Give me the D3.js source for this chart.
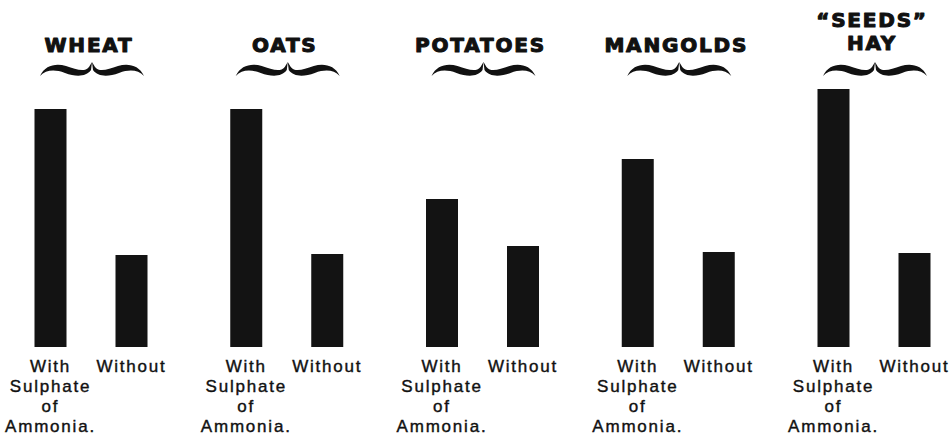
<!DOCTYPE html>
<html>
<head>
<meta charset="utf-8">
<script src="https://cdn.jsdelivr.net/npm/d3@7"></script>
<style>
  html, body { margin: 0; padding: 0; background: #fff; }
  svg { display: block; }
</style>
</head>
<body>
<svg id="chart" width="952" height="437"></svg>
<script>
// ---- data ----
const crops = ["WHEAT", "OATS", "POTATOES", "MANGOLDS", "SEEDS HAY"];
const titleLines = [["WHEAT"], ["OATS"], ["POTATOES"], ["MANGOLDS"], ["\u201cSEEDS\u201d", "HAY"]];
const series = ["With", "Without"];
const withSulphate = [238, 238, 148, 188, 258];
const withoutSulphate = [92, 93, 101, 95, 94];
const seriesLabels = [["With", "Sulphate", "of", "Ammonia."], ["Without"]];

// ---- layout ----
const svg = d3.select("#chart");
const baseY = 347, topY = 89;
const y = d3.scaleLinear().domain([0, d3.max(withSulphate)]).range([baseY, topY]);
const x0 = d3.scalePoint().domain(crops).range([91, 874]);
const x1 = d3.scalePoint().domain(series).range([-40.5, 40.5]);
const barW = 32;

const rows = crops.map((c, i) => ({
  crop: c,
  values: [
    { s: "With", v: withSulphate[i] },
    { s: "Without", v: withoutSulphate[i] }
  ]
}));

const g = svg.selectAll("g.group").data(rows).join("g")
  .attr("class", "group")
  .attr("transform", d => `translate(${x0(d.crop)},0)`);

// bars
g.selectAll("rect").data(d => d.values).join("rect")
  .attr("x", d => x1(d.s) - barW / 2)
  .attr("width", barW)
  .attr("y", d => y(d.v))
  .attr("height", d => baseY - y(d.v))
  .attr("fill", "#131313");

// titles
g.each(function(d, i) {
  const lines = titleLines[i];
  const sel = d3.select(this);
  const baselines = lines.length === 2 ? [27, 50] : [52];
  lines.forEach((t, k) => {
    sel.append("text")
      .attr("x", -2)
      .attr("y", baselines[k])
      .attr("text-anchor", "middle")
      .attr("font-family", "'DejaVu Sans', sans-serif")
      .attr("font-weight", "bold")
      .attr("font-size", 20)
      .attr("letter-spacing", "1.8px")
      .attr("fill", "#111")
      .attr("stroke", "#111")
      .attr("stroke-width", 1.1)
      .attr("stroke-linejoin", "round")
      .text(t);
  });
});

// decorative braces under titles
const halfBrace = "M -52,14 C -47,3 -36,1 -26,4 C -16,7 -8,11 -3,5 L 0,0 L -1,8 C -6,15 -16,15 -27,11 C -38,7 -46,8 -52,14 Z";
g.each(function() {
  const b = d3.select(this).append("g").attr("transform", "translate(1,62)");
  b.append("path").attr("d", halfBrace).attr("fill", "#111");
  b.append("path").attr("d", halfBrace).attr("fill", "#111").attr("transform", "scale(-1,1)");
});

// bar labels
g.each(function() {
  const sel = d3.select(this);
  series.forEach((s, si) => {
    seriesLabels[si].forEach((t, k) => {
      sel.append("text")
        .attr("x", x1(s))
        .attr("y", 372 + k * 20)
        .attr("text-anchor", "middle")
        .attr("font-family", "'Liberation Sans', Arial, sans-serif")
        .attr("font-size", 17)
        .attr("letter-spacing", "1.8px")
        .attr("fill", "#111")
        .attr("stroke", "#111")
        .attr("stroke-width", 0.4)
        .text(t);
    });
  });
});
</script>
</body>
</html>
